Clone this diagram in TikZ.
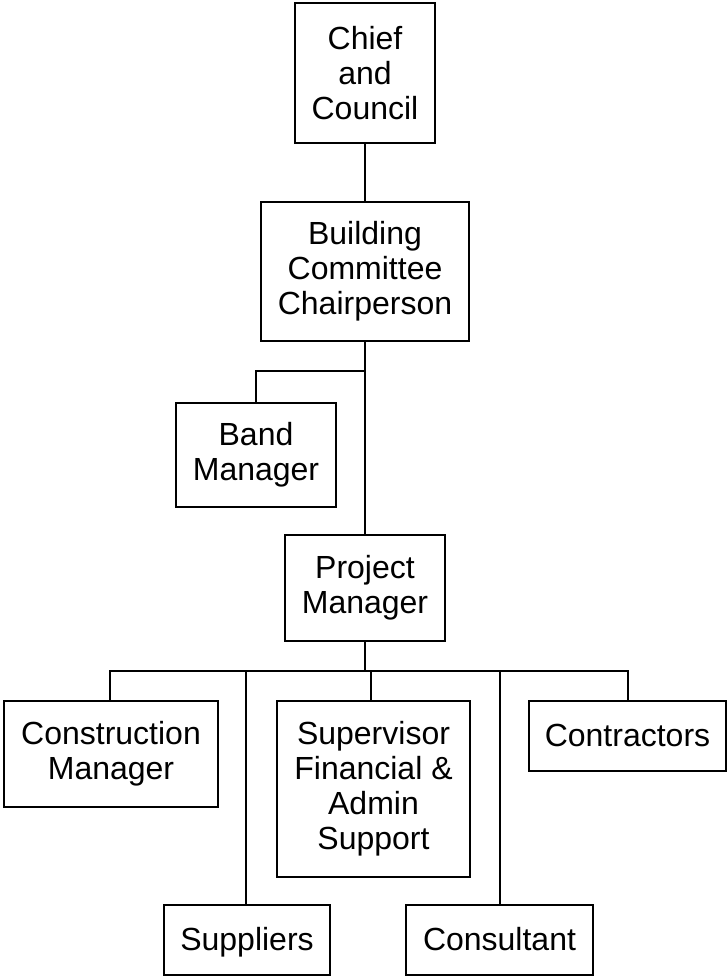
\documentclass[tikz,border=0pt]{standalone}
\usepackage{fontspec}
\setmainfont{Liberation Sans}
\begin{document}
\begin{tikzpicture}[x=1pt,y=-1pt,
  box/.style={draw,line width=2pt,inner sep=0pt,align=center,font=\fontsize{32}{35}\selectfont},
  onebox/.style={box,text height=24pt,text depth=4pt},
  conn/.style={line width=2pt,line join=miter}]
\useasboundingbox (0,0) rectangle (727,977);
\node[box,minimum width=140,minimum height=140] (chief) at (365,73) {Chief\\and\\Council};
\node[box,minimum width=208,minimum height=139] (build) at (365,271.5) {Building\\Committee\\Chairperson};
\node[box,minimum width=160,minimum height=104] (band) at (256,455) {Band\\Manager};
\node[box,minimum width=160,minimum height=106] (pm) at (365,588) {Project\\Manager};
\node[box,minimum width=214,minimum height=106] (cons) at (111,754) {Construction\\Manager};
\node[box,minimum width=193,minimum height=176] (sup) at (373.5,789) {Supervisor\\Financial \&\\Admin\\Support};
\node[onebox,minimum width=197,minimum height=70] (contr) at (627.5,736) {Contractors};
\node[onebox,minimum width=166,minimum height=70] (suppl) at (247,940) {Suppliers};
\node[onebox,minimum width=187,minimum height=70] (consult) at (499.5,940) {Consultant};
\coordinate (br) at (365,371);
\coordinate (busL) at (110,671);
\coordinate (busR) at (628,671);
\coordinate (bPM) at (365,671);
\coordinate (bSp) at (246,671);
\coordinate (bSu) at (371,671);
\coordinate (bCo) at (500,671);
\draw[conn] (chief.south) -- (build.north);
\draw[conn] (build.south) -- (pm.north);
\draw[conn] (br) -| (band.north);
\draw[conn] (pm.south) -- (bPM);
\draw[conn] (busL |- cons.north) -- (busL) -- (busR) -- (busR |- contr.north);
\draw[conn] (bSu) -- (bSu |- sup.north);
\draw[conn] (bSp) -- (bSp |- suppl.north);
\draw[conn] (bCo) -- (bCo |- consult.north);
\end{tikzpicture}
\end{document}
